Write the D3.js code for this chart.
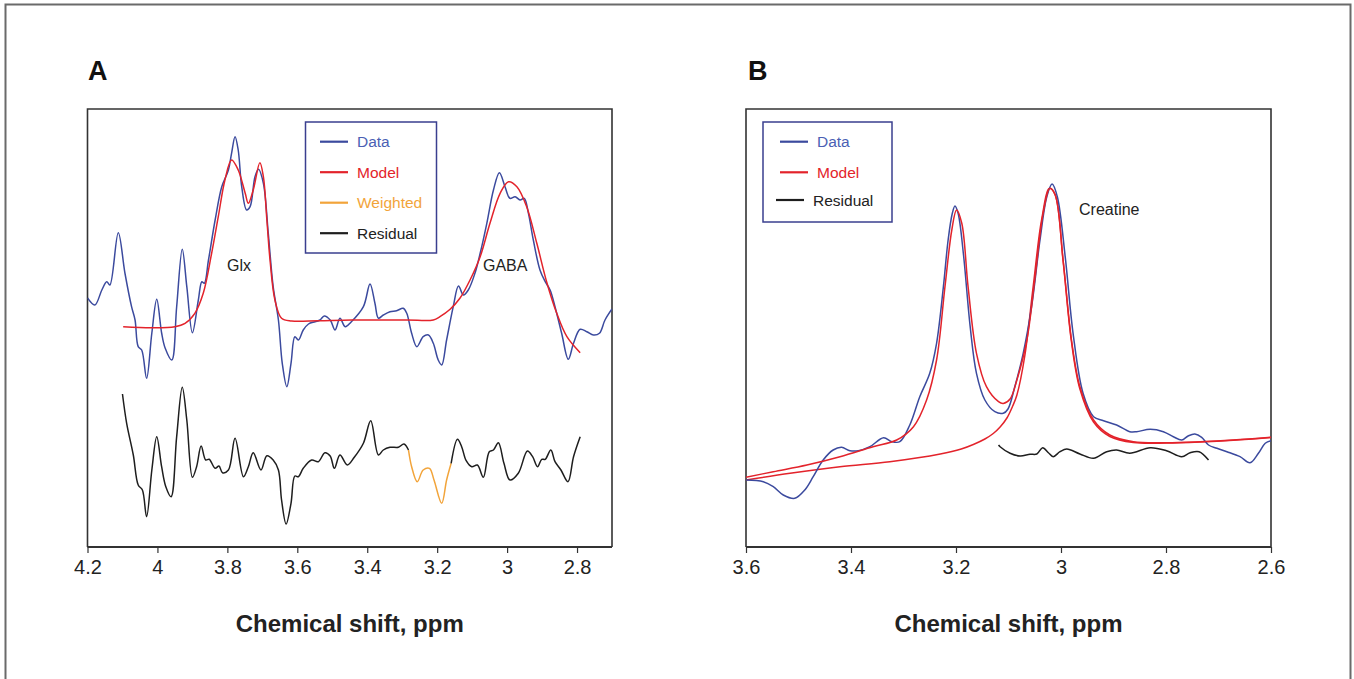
<!DOCTYPE html>
<html>
<head>
<meta charset="utf-8">
<script src="https://cdn.jsdelivr.net/npm/d3@7"></script>
<style>
  html, body { margin: 0; padding: 0; background: #fff; }
  svg { display: block; font-family: "Liberation Sans", Arial, Helvetica, sans-serif; }
</style>
</head>
<body>
<svg id="fig" width="1354" height="679"></svg>
<script>
// ---- Panel A: GABA-edited difference spectrum, [ppm, intensity] ----
const dataA = [
  [4.200,3.2],[4.179,2.5],[4.159,4.0],[4.145,4.83],[4.136,4.5],[4.112,9.73],[4.093,5.7],
  [4.074,2.33],[4.064,1.0],[4.055,-1.67],[4.045,-2.0],[4.031,-4.83],[4.016,-0.3],[4.002,3.07],
  [3.988,-0.3],[3.978,-1.8],[3.959,-3.0],[3.945,2.33],[3.929,8.07],[3.916,4.33],[3.900,-0.27],
  [3.883,3.0],[3.873,4.83],[3.866,4.67],[3.854,7.0],[3.835,11.0],[3.816,14.33],[3.797,16.0],
  [3.788,17.67],[3.778,19.33],[3.769,18.0],[3.759,14.33],[3.745,12.0],[3.735,12.33],[3.721,15.33],
  [3.711,16.07],[3.697,14.67],[3.683,9.67],[3.669,4.33],[3.654,1.0],[3.643,-3.33],[3.630,-5.67],
  [3.618,-3.33],[3.607,-0.67],[3.597,-1.0],[3.583,0.0],[3.568,0.6],[3.549,0.83],[3.535,1.0],
  [3.523,1.4],[3.506,1.0],[3.492,0.0],[3.478,1.17],[3.463,0.33],[3.446,0.8],[3.411,2.33],
  [3.392,4.6],[3.378,2.67],[3.368,1.17],[3.354,1.5],[3.335,1.83],[3.316,1.93],[3.297,2.17],
  [3.287,1.67],[3.273,-0.33],[3.258,-1.67],[3.240,-0.67],[3.225,-0.5],[3.211,-1.33],[3.197,-3.0],
  [3.187,-3.5],[3.173,-1.0],[3.154,2.33],[3.139,4.4],[3.125,3.5],[3.111,4.0],[3.092,5.67],
  [3.077,7.67],[3.058,10.67],[3.039,14.0],[3.022,15.73],[3.006,14.33],[2.992,13.17],[2.977,13.33],
  [2.963,13.0],[2.951,13.17],[2.939,11.67],[2.925,9.0],[2.906,6.0],[2.891,4.83],[2.877,4.0],
  [2.863,2.33],[2.844,-0.33],[2.825,-2.93],[2.810,-1.33],[2.791,0.07],[2.772,-0.17],[2.753,-0.5],
  [2.736,-0.33],[2.720,1.0],[2.700,2.1]
];
const modelA = [
  [4.098,0.33],[4.016,0.23],[3.950,0.33],[3.921,0.67],[3.893,1.67],[3.869,3.67],[3.845,7.67],
  [3.826,11.33],[3.807,15.0],[3.788,17.0],[3.769,16.0],[3.749,13.67],[3.740,12.67],[3.726,14.0],
  [3.707,16.73],[3.697,15.33],[3.687,11.0],[3.678,7.0],[3.664,3.0],[3.645,1.17],[3.616,0.9],
  [3.540,0.93],[3.444,1.0],[3.287,1.0],[3.211,1.0],[3.192,1.33],[3.163,2.07],[3.135,3.17],
  [3.106,5.0],[3.077,7.33],[3.049,10.67],[3.020,13.67],[2.996,14.83],[2.972,14.33],[2.944,12.33],
  [2.915,8.67],[2.887,4.83],[2.858,1.67],[2.829,-0.67],[2.791,-2.27]
];
const residualA = [
  [4.100,6.8],[4.088,3.87],[4.069,0.7],[4.055,-2.3],[4.043,-2.8],[4.031,-5.47],[4.016,-0.8],
  [4.002,2.53],[3.988,-0.47],[3.976,-2.47],[3.961,-3.47],[3.945,2.53],[3.929,7.47],[3.916,4.2],
  [3.900,-1.53],[3.888,-0.47],[3.875,1.6],[3.862,0.2],[3.852,0.27],[3.835,-0.63],[3.824,-0.4],
  [3.814,-1.07],[3.797,-0.8],[3.778,2.37],[3.754,-1.47],[3.740,-0.47],[3.726,0.93],[3.704,-0.8],
  [3.687,0.63],[3.669,0.2],[3.654,-0.8],[3.645,-3.8],[3.632,-6.2],[3.618,-4.13],[3.607,-1.4],
  [3.597,-1.47],[3.583,-0.63],[3.559,0.2],[3.540,0.03],[3.521,0.93],[3.506,0.6],[3.494,-0.63],
  [3.478,0.7],[3.457,-0.3],[3.437,0.47],[3.411,1.87],[3.390,4.13],[3.368,0.7],[3.354,1.2],
  [3.335,1.47],[3.311,1.47],[3.295,1.8],[3.282,1.2],[3.273,-0.47],[3.257,-1.97],[3.240,-0.8],
  [3.222,-0.63],[3.209,-1.8],[3.187,-4.13],[3.173,-1.8],[3.160,-0.13],[3.142,2.27],[3.130,1.53],
  [3.117,0.13],[3.101,-0.47],[3.085,-0.3],[3.068,-1.53],[3.051,1.03],[3.039,1.2],[3.025,1.93],
  [3.009,-0.13],[2.992,-1.8],[2.968,-1.13],[2.942,1.1],[2.927,0.53],[2.913,-0.47],[2.901,0.27],
  [2.891,0.27],[2.875,1.2],[2.863,0.03],[2.846,-0.8],[2.826,-1.97],[2.810,0.53],[2.791,2.53]
];
const residualOffsetA = -13.2;          // residual drawn below the spectrum
const weightedRangeA = [3.160, 3.282];  // ppm span of the weighted region
const ticksA = [4.2, 4.0, 3.8, 3.6, 3.4, 3.2, 3.0, 2.8];
const domainA = [4.2, 2.7];
const yDomainA = [-21.7, 22.1];

// ---- Panel B: creatine / choline region, [ppm, intensity] ----
const dataB = [
  [3.600,0.0],[3.567,-0.17],[3.548,-0.67],[3.529,-1.5],[3.507,-1.83],[3.488,-1.0],[3.472,0.33],
  [3.453,2.0],[3.434,3.0],[3.418,3.27],[3.402,2.93],[3.386,2.93],[3.364,3.33],[3.338,4.23],
  [3.322,3.83],[3.307,3.83],[3.288,5.5],[3.269,8.33],[3.250,10.67],[3.237,13.67],[3.224,19.33],
  [3.215,24.0],[3.207,26.67],[3.202,27.4],[3.196,26.67],[3.186,22.67],[3.173,15.33],[3.161,10.67],
  [3.145,8.0],[3.126,6.83],[3.110,6.67],[3.101,7.1],[3.088,9.33],[3.072,12.67],[3.056,17.33],
  [3.040,24.0],[3.027,28.33],[3.017,29.6],[3.007,28.33],[2.992,22.33],[2.977,14.67],[2.958,8.67],
  [2.938,6.33],[2.919,5.93],[2.894,5.5],[2.869,4.83],[2.856,4.83],[2.830,5.07],[2.805,4.83],
  [2.786,4.33],[2.770,4.0],[2.758,4.4],[2.745,4.6],[2.732,4.27],[2.719,3.5],[2.703,3.17],
  [2.684,2.83],[2.659,2.33],[2.640,1.73],[2.624,2.67],[2.611,3.67],[2.600,3.93]
];
const modelB = [
  [3.600,0.27],[3.548,0.83],[3.484,1.5],[3.421,2.33],[3.358,3.33],[3.313,4.0],[3.281,5.33],
  [3.256,8.0],[3.237,12.0],[3.221,19.33],[3.208,25.0],[3.199,27.0],[3.189,25.67],[3.177,19.33],
  [3.161,12.67],[3.142,9.33],[3.119,7.83],[3.110,7.65],[3.097,8.1],[3.084,10.0],[3.065,14.0],
  [3.050,20.0],[3.034,26.67],[3.021,29.17],[3.011,28.5],[2.996,22.0],[2.980,14.0],[2.964,9.33],
  [2.938,6.0],[2.907,4.5],[2.862,3.83],[2.799,3.73],[2.735,3.83],[2.672,4.0],[2.600,4.27]
];
const creatineB = [
  [3.600,0.0],[3.516,0.67],[3.421,1.33],[3.326,1.83],[3.230,2.6],[3.190,3.1],[3.167,3.55],
  [3.145,4.1],[3.129,4.65],[3.116,5.3],[3.103,6.2],[3.092,7.4],[3.084,8.5],[3.069,12.4],
  [3.053,19.33],[3.037,26.0],[3.022,29.17],[3.011,28.5],[2.996,21.9],[2.980,13.8],[2.964,9.1],
  [2.938,5.8],[2.907,4.35],[2.862,3.75],[2.799,3.7],[2.735,3.8],[2.672,3.97],[2.600,4.25]
];
const residualB = [
  [3.119,0.7],[3.116,0.53],[3.097,-0.13],[3.078,-0.4],[3.059,-0.23],[3.046,-0.2],[3.035,0.43],
  [3.024,-0.07],[3.015,-0.47],[3.002,0.03],[2.989,0.3],[2.964,-0.2],[2.938,-0.63],[2.913,0.03],
  [2.894,0.2],[2.869,-0.13],[2.830,0.43],[2.799,0.13],[2.770,-0.47],[2.754,-0.07],[2.737,0.03],
  [2.719,-0.8]
];
const residualOffsetB = 2.8;
const ticksB = [3.6, 3.4, 3.2, 3.0, 2.8, 2.6];
const domainB = [3.6, 2.6];
const yDomainB = [-6.7, 37.1];

const legendA = ["Data", "Model", "Weighted", "Residual"];
const legendB = ["Data", "Model", "Residual"];
const xTitle = "Chemical shift, ppm";

// ---- styling ----
const C = {
  data: "#3b4a9e", dataText: "#4b5fb4",
  model: "#e3232b", modelText: "#e3232b",
  weighted: "#f2a43a", residual: "#1e1e1e",
  frame: "#333", legendBox: "#3a3f8f", outer: "#6a6a6a"
};
const svg = d3.select("#fig");

// outer figure frame
svg.append("rect")
  .attr("x", 5.5).attr("y", 4.5).attr("width", 1345).attr("height", 720)
  .attr("fill", "none").attr("stroke", C.outer).attr("stroke-width", 2);

function panel(opts) {
  const { left, right, top, bottom, xDomain, yDomain, ticks, id } = opts;
  const x = d3.scaleLinear().domain(xDomain).range([left, right]);
  const y = d3.scaleLinear().domain(yDomain).range([bottom, top]);
  const g = svg.append("g");

  g.append("clipPath").attr("id", id)
    .append("rect").attr("x", left).attr("y", top)
    .attr("width", right - left).attr("height", bottom - top);

  // frame (left, top, right)
  g.append("path")
    .attr("d", `M${left},${bottom}V${top}H${right}V${bottom}`)
    .attr("fill", "none").attr("stroke", C.frame).attr("stroke-width", 1.6);

  // bottom axis
  const ax = g.append("g").attr("transform", `translate(0,${bottom})`)
    .call(d3.axisBottom(x).tickValues(ticks).tickSize(6).tickPadding(7)
      .tickFormat(d => String(+d.toFixed(1))));
  ax.select(".domain").attr("stroke", C.frame).attr("stroke-width", 1.8)
    .attr("d", `M${left},0H${right}`);
  ax.selectAll(".tick line").attr("stroke", C.frame).attr("stroke-width", 1.2);
  ax.selectAll(".tick text")
    .attr("font-family", "'Liberation Sans', Arial, sans-serif")
    .attr("font-size", 20).attr("fill", "#222");

  g.append("text")
    .attr("x", (left + right) / 2).attr("y", 632)
    .attr("text-anchor", "middle").attr("font-weight", "bold")
    .attr("font-size", 24).attr("fill", "#222").text(xTitle);

  const plot = g.append("g").attr("clip-path", `url(#${id})`);
  return { x, y, g, plot };
}

function drawLine(p, pts, color, offset = 0, width = 1.5) {
  const line = d3.line()
    .x(d => p.x(d[0])).y(d => p.y(d[1] + offset))
    .curve(d3.curveCatmullRom.alpha(0.5));
  p.plot.append("path").datum(pts).attr("d", line)
    .attr("fill", "none").attr("stroke", color)
    .attr("stroke-width", width).attr("stroke-linejoin", "round");
}

// ---------------- Panel A ----------------
const pA = panel({ left: 87.5, right: 612, top: 109, bottom: 547,
  xDomain: domainA, yDomain: yDomainA, ticks: ticksA, id: "clipA" });

drawLine(pA, dataA, C.data);
drawLine(pA, modelA, C.model);
const [wLo, wHi] = weightedRangeA;
drawLine(pA, residualA.filter(d => d[0] >= wHi), C.residual, residualOffsetA);
drawLine(pA, residualA.filter(d => d[0] >= wLo && d[0] <= wHi), C.weighted, residualOffsetA);
drawLine(pA, residualA.filter(d => d[0] <= wLo), C.residual, residualOffsetA);

pA.g.append("text").attr("x", 227).attr("y", 271).attr("font-size", 16)
  .attr("fill", "#222").text("Glx");
pA.g.append("text").attr("x", 483).attr("y", 271).attr("font-size", 16)
  .attr("fill", "#222").text("GABA");

svg.append("text").attr("x", 88).attr("y", 80).attr("font-weight", "bold")
  .attr("font-size", 27).attr("fill", "#111").text("A");

// legend A
const legA = svg.append("g");
legA.append("rect").attr("x", 305.5).attr("y", 122).attr("width", 131).attr("height", 131)
  .attr("fill", "#fff").attr("stroke", C.legendBox).attr("stroke-width", 1.5);
const legAColors = [C.data, C.model, C.weighted, C.residual];
const legATextColors = [C.dataText, C.modelText, C.weighted, "#222"];
legendA.forEach((name, i) => {
  const yy = 141.7 + i * 30.5;
  legA.append("line").attr("x1", 320).attr("x2", 348).attr("y1", yy).attr("y2", yy)
    .attr("stroke", legAColors[i]).attr("stroke-width", 2.2);
  legA.append("text").attr("x", 357).attr("y", yy + 5.5).attr("font-size", 15.5)
    .attr("fill", legATextColors[i]).text(name);
});

// ---------------- Panel B ----------------
const pB = panel({ left: 746, right: 1271, top: 109, bottom: 547,
  xDomain: domainB, yDomain: yDomainB, ticks: ticksB, id: "clipB" });

drawLine(pB, creatineB, C.model);
drawLine(pB, dataB, C.data);
drawLine(pB, modelB, C.model);
drawLine(pB, residualB, C.residual, residualOffsetB);

pB.g.append("text").attr("x", 1079).attr("y", 215).attr("font-size", 16)
  .attr("fill", "#222").text("Creatine");

svg.append("text").attr("x", 748).attr("y", 80).attr("font-weight", "bold")
  .attr("font-size", 27).attr("fill", "#111").text("B");

// legend B
const legB = svg.append("g");
legB.append("rect").attr("x", 763).attr("y", 122).attr("width", 129).attr("height", 100)
  .attr("fill", "#fff").attr("stroke", C.legendBox).attr("stroke-width", 1.5);
const legBColors = [C.data, C.model, C.residual];
const legBTextColors = [C.dataText, C.modelText, "#222"];
const legBRows = [141.7, 172.3, 200];
const legBLineX = [[780, 808], [780, 808], [776, 804]];
const legBTextX = [817, 817, 813];
legendB.forEach((name, i) => {
  const yy = legBRows[i];
  legB.append("line").attr("x1", legBLineX[i][0]).attr("x2", legBLineX[i][1])
    .attr("y1", yy).attr("y2", yy)
    .attr("stroke", legBColors[i]).attr("stroke-width", 2.2);
  legB.append("text").attr("x", legBTextX[i]).attr("y", yy + 5.5).attr("font-size", 15.5)
    .attr("fill", legBTextColors[i]).text(name);
});
</script>
</body>
</html>
